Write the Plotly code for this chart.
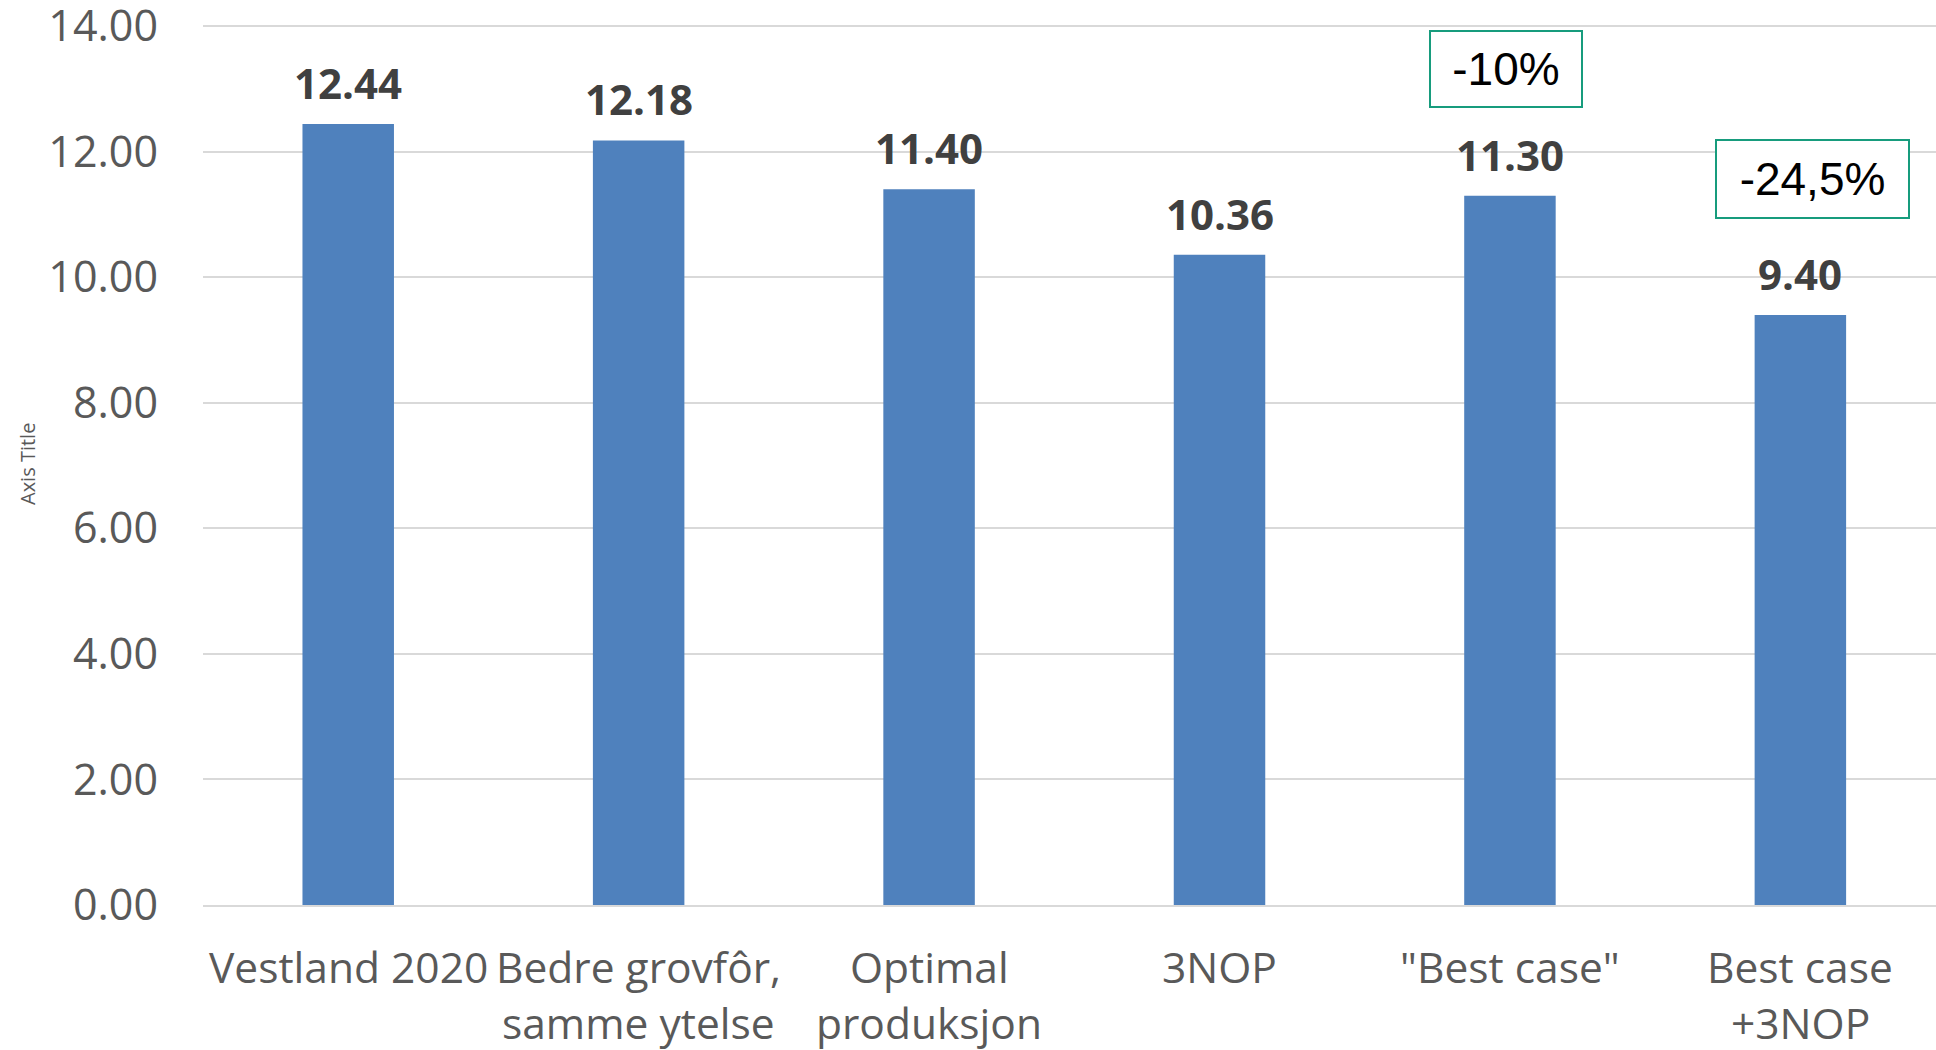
import plotly.graph_objects as go

# Scenario names (two-line labels where the original wraps)
categories = [
    "Vestland 2020",
    "Bedre grovfôr,<br>samme ytelse",
    "Optimal<br>produksjon",
    "3NOP",
    "\"Best case\"",
    "Best case<br>+3NOP",
]
values = [12.44, 12.18, 11.40, 10.36, 11.30, 9.40]
y_ticks = [0, 2, 4, 6, 8, 10, 12, 14]
reduction_labels = ["-10%", "-24,5%"]

x_idx = list(range(len(categories)))

BAR_COLOR = "#4f81bd"
GRID = "#d9d9d9"
TICK_COLOR = "#595959"
LABEL_COLOR = "#404040"
BOX_COLOR = "#179c7d"
FONT = "Open Sans"

fig = go.Figure()
fig.add_trace(go.Bar(
    x=x_idx,
    y=values,
    width=0.315,
    marker=dict(color=BAR_COLOR, line=dict(width=0)),
    hoverinfo="skip",
))

annotations = []
# Bold value labels above each bar
for i, v in zip(x_idx, values):
    annotations.append(dict(
        x=i, y=v, xref="x", yref="y",
        text=f"<b>{v:.2f}</b>",
        showarrow=False, yanchor="bottom", yshift=11,
        font=dict(family=FONT, size=42, color=LABEL_COLOR),
    ))

# Category labels below the axis, one annotation per text line
line_offsets = [-61, -117]
for i, cat in zip(x_idx, categories):
    for line, dy in zip(cat.split("<br>"), line_offsets):
        annotations.append(dict(
            x=i, y=0, xref="x", yref="y",
            text=line, showarrow=False,
            xanchor="center", yanchor="middle", yshift=dy,
            font=dict(family=FONT, size=42.5, color=TICK_COLOR),
        ))

# Boxed percentage callouts
box_specs = [
    dict(x=3.987, y=13.32, w=150, h=74),
    dict(x=5.042, y=11.56, w=191, h=76),
]
for lab, b in zip(reduction_labels, box_specs):
    annotations.append(dict(
        x=b["x"], y=b["y"], xref="x", yref="y",
        text=lab, showarrow=False,
        xanchor="center", yanchor="middle",
        width=b["w"], height=b["h"], align="center", valign="middle",
        bordercolor=BOX_COLOR, borderwidth=2, borderpad=0,
        bgcolor="white",
        font=dict(family="Liberation Sans, Arial", size=46, color="black"),
    ))

# Placeholder y-axis title
annotations.append(dict(
    x=-176 / 1733, y=0.5, xref="paper", yref="paper",
    text="Axis Title", textangle=-90, showarrow=False,
    xanchor="center", yanchor="middle",
    font=dict(family=FONT, size=20, color=TICK_COLOR),
))

fig.update_layout(
    width=1936, height=1050,
    margin=dict(l=203, r=0, t=23, b=145, autoexpand=False),
    plot_bgcolor="white", paper_bgcolor="white",
    showlegend=False,
    annotations=annotations,
    xaxis=dict(
        range=[-0.5, 5.467],
        tickmode="array", tickvals=x_idx,
        showticklabels=False,
        showgrid=False, zeroline=False,
        showline=True, linecolor=GRID, linewidth=2,
        ticks="", automargin=False,
    ),
    yaxis=dict(
        range=[0, 14.05],
        tickmode="array", tickvals=y_ticks,
        ticktext=[f"{t:.2f}" for t in y_ticks],
        tickfont=dict(family=FONT, size=43, color=TICK_COLOR),
        showgrid=True, gridcolor=GRID, gridwidth=2,
        zeroline=False, showline=False,
        ticks="", ticklabelstandoff=44,
        ticklabeloverflow="allow", automargin=False,
    ),
)

fig.write_html("out.html")
